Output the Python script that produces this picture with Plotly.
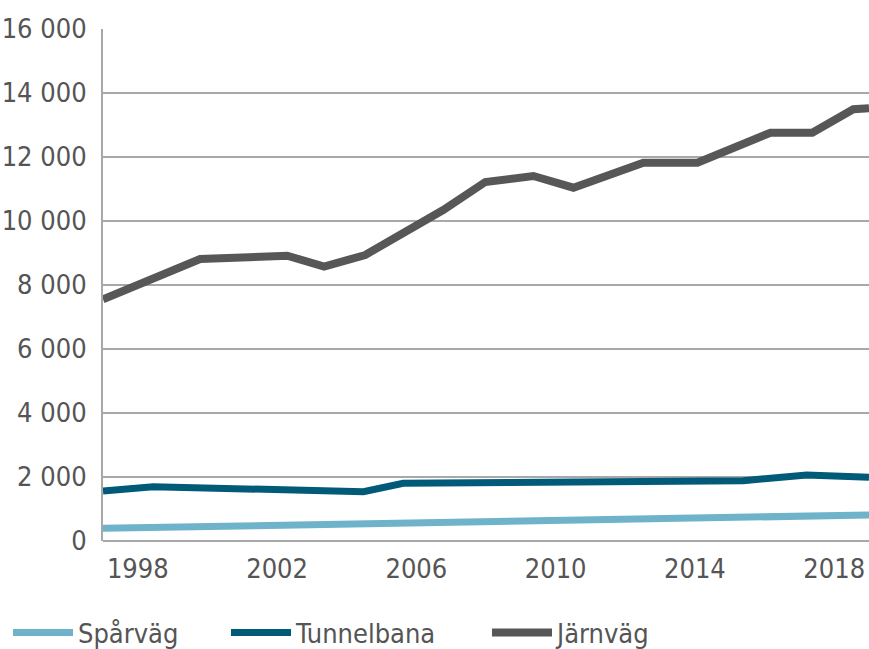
import plotly.graph_objects as go

# Data (x in years, y in values)
jarnvag_x = [1997.0, 1999.79, 2002.29, 2003.35, 2004.53, 2006.77, 2007.98, 2009.36,
             2010.51, 2012.52, 2014.07, 2016.17, 2017.37, 2018.55, 2019.0]
jarnvag_y = [7553, 8812, 8916, 8572, 8938, 10344, 11219, 11406,
             11041, 11822, 11822, 12759, 12759, 13491, 13522]

tunnel_x = [1997.0, 1998.44, 2004.48, 2005.62, 2015.39, 2017.21, 2019.0]
tunnel_y = [1562, 1697, 1541, 1803, 1885, 2062, 1990]

sparvag_x = [1997.0, 2008.4, 2019.0]
sparvag_y = [397, 625, 812]

y_ticks = [0, 2000, 4000, 6000, 8000, 10000, 12000, 14000, 16000]
x_ticks = [1998, 2002, 2006, 2010, 2014, 2018]

FONT = "DejaVu Sans Condensed"
TXT = "#555555"
GRID = "#a8a8a8"
FS = 27

fig = go.Figure()
fig.add_trace(go.Scatter(x=sparvag_x, y=sparvag_y, mode="lines", name="Spårväg",
                         line=dict(color="#6fb3cb", width=7), legend="legend"))
fig.add_trace(go.Scatter(x=tunnel_x, y=tunnel_y, mode="lines", name="Tunnelbana",
                         line=dict(color="#005a78", width=7), legend="legend2"))
fig.add_trace(go.Scatter(x=jarnvag_x, y=jarnvag_y, mode="lines", name="Järnväg",
                         line=dict(color="#575757", width=8), legend="legend3"))

def leg(xpx):
    return dict(orientation="h", xref="container", yref="container",
                x=xpx / 869, xanchor="left",
                y=1 - 633 / 649, yanchor="middle",
                font=dict(family=FONT, size=FS, color=TXT),
                itemwidth=60, bgcolor="rgba(0,0,0,0)")

fig.update_layout(
    width=869, height=649,
    margin=dict(l=103, r=0, t=29, b=108),
    paper_bgcolor="white", plot_bgcolor="white",
    font=dict(family=FONT, size=FS, color=TXT),
    separators=", ",
    showlegend=True,
    legend=leg(8), legend2=leg(226), legend3=leg(487),
    xaxis=dict(range=[1997, 2019], tickvals=x_ticks, showgrid=False,
               showline=False, zeroline=False, ticks="", ticklabelstandoff=9,
               automargin=False,
               tickfont=dict(family=FONT, size=FS, color=TXT)),
    yaxis=dict(range=[0, 16000], tickvals=y_ticks, separatethousands=True,
               tickformat=",d", automargin=False,
               showgrid=True, gridcolor=GRID, gridwidth=2,
               showline=True, linecolor=GRID, linewidth=2,
               zeroline=True, zerolinecolor=GRID, zerolinewidth=2,
               ticks="", ticklabelstandoff=9,
               tickfont=dict(family=FONT, size=FS, color=TXT)),
)

fig.write_html("out.html")
